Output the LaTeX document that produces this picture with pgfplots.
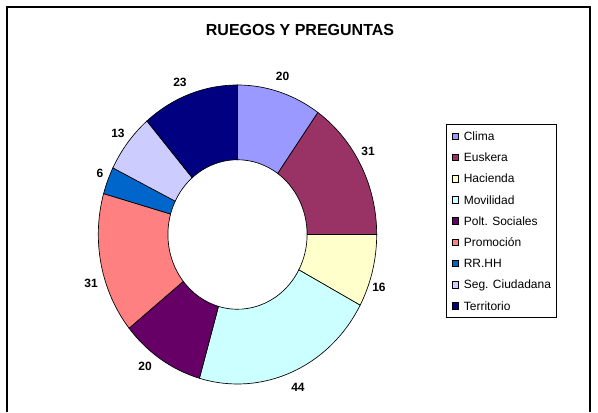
\documentclass[border=0pt]{standalone}
\usepackage{fontspec}
\setmainfont{Liberation Sans}
\usepackage{pgfplots}
\usepackage{pgfplotstable}
\pgfplotsset{compat=1.18}

\definecolor{slice0}{HTML}{9999FF}
\definecolor{slice1}{HTML}{993366}
\definecolor{slice2}{HTML}{FFFFCC}
\definecolor{slice3}{HTML}{CCFFFF}
\definecolor{slice4}{HTML}{660066}
\definecolor{slice5}{HTML}{FF8080}
\definecolor{slice6}{HTML}{0066CC}
\definecolor{slice7}{HTML}{CCCCFF}
\definecolor{slice8}{HTML}{000080}

% value and label position (axis units, centre of ring = 0,0)
\pgfplotstableread[col sep=comma]{
name,val,lx,ly
Clima,20,0.3233,1.0569
Euskera,31,0.9375,0.5552
Hacienda,16,1.0165,-0.3512
Movilidad,44,0.4346,-1.0201
Polt. Sociales,20,-0.6645,-0.8796
Promocion,31,-1.0524,-0.3244
RR.HH,6,-0.9878,0.4114
Seg. Ciudadana,13,-0.8585,0.6789
Territorio,23,-0.4131,1.0201
}\ruegos

\def\rx{104.4pt}
\def\ry{112.125pt}

\begin{document}
\begin{tikzpicture}
\begin{axis}[
    scale only axis,
    x=104.4pt, y=112.125pt,
    xmin=-1.70618, xmax=2.58980,
    ymin=-1.18729, ymax=1.56856,
    hide axis, clip=false,
    legend style={at={(0.7463,0.699)}, anchor=north west,
                  draw=black, line width=0.6pt, fill=white,
                  font=\fontsize{9}{10}\selectfont,
                  inner xsep=3.75pt, inner ysep=5.56pt, row sep=9.46pt,
                  nodes={inner sep=0pt, text height=6.44pt, text depth=0pt}},
    legend cell align=left,
    legend image code/.code={\draw[#1,line width=0.4pt] (0pt,-2.45pt) rectangle (4.9pt,2.45pt); \path (8.6pt,0pt);},
  ]
  \path (rel axis cs:0,0) rectangle (rel axis cs:1,1);

  % total
  \pgfplotstablegetrowsof{\ruegos}
  \pgfmathtruncatemacro\nrows{\pgfplotsretval-1}
  \def\total{0}
  \pgfplotsforeachungrouped \i in {0,...,\nrows}{%
    \pgfplotstablegetelem{\i}{val}\of\ruegos
    \pgfmathsetmacro\total{\total+\pgfplotsretval}}

  % ring slices, clockwise from the top
  \def\acc{0}
  \pgfplotsforeachungrouped \i in {0,...,\nrows}{%
    \pgfplotstablegetelem{\i}{val}\of\ruegos
    \pgfmathsetmacro\aone{90-\acc/\total*360}
    \pgfmathsetmacro\acc{\acc+\pgfplotsretval}
    \pgfmathsetmacro\atwo{90-\acc/\total*360}
    \pgfmathsetmacro\xout{cos(\aone)}
    \pgfmathsetmacro\yout{sin(\aone)}
    \pgfmathsetmacro\xin{0.5*cos(\atwo)}
    \pgfmathsetmacro\yin{0.5*sin(\atwo)}
    \edef\slice{\noexpand\filldraw[fill=slice\i,draw=black,line width=0.5pt]
      (axis cs:\xout,\yout) arc[start angle=\aone,end angle=\atwo,x radius=\rx,y radius=\ry]
      -- (axis cs:\xin,\yin) arc[start angle=\atwo,end angle=\aone,x radius=0.5*\rx,y radius=0.5*\ry]
      -- cycle;}
    \slice
  }

  \addlegendimage{fill=slice0,draw=black}
  \addlegendimage{fill=slice1,draw=black}
  \addlegendimage{fill=slice2,draw=black}
  \addlegendimage{fill=slice3,draw=black}
  \addlegendimage{fill=slice4,draw=black}
  \addlegendimage{fill=slice5,draw=black}
  \addlegendimage{fill=slice6,draw=black}
  \addlegendimage{fill=slice7,draw=black}
  \addlegendimage{fill=slice8,draw=black}
  \legend{Clima, Euskera, Hacienda, Movilidad, Polt. Sociales, Promoción, RR.HH, Seg. Ciudadana, Territorio}

  % value labels
  \addplot[draw=none, forget plot, nodes near coords, point meta=explicit symbolic,
    every node near coord/.style={anchor=center, inner sep=0pt,
      font=\bfseries\fontsize{9}{10}\selectfont}]
    table[col sep=comma, x=lx, y=ly, meta=val]{\ruegos};

  % title
  \node[font=\bfseries\fontsize{12}{14}\selectfont] at (rel axis cs:0.5017,0.9265) {RUEGOS Y PREGUNTAS};

  % chart area border (open at the bottom edge)
  \draw[line width=1.1pt] (rel axis cs:0.01171,0) -- (rel axis cs:0.01171,0.98301)
    -- (rel axis cs:0.98662,0.98301) -- (rel axis cs:0.98662,0);
\end{axis}
\end{tikzpicture}
\end{document}
